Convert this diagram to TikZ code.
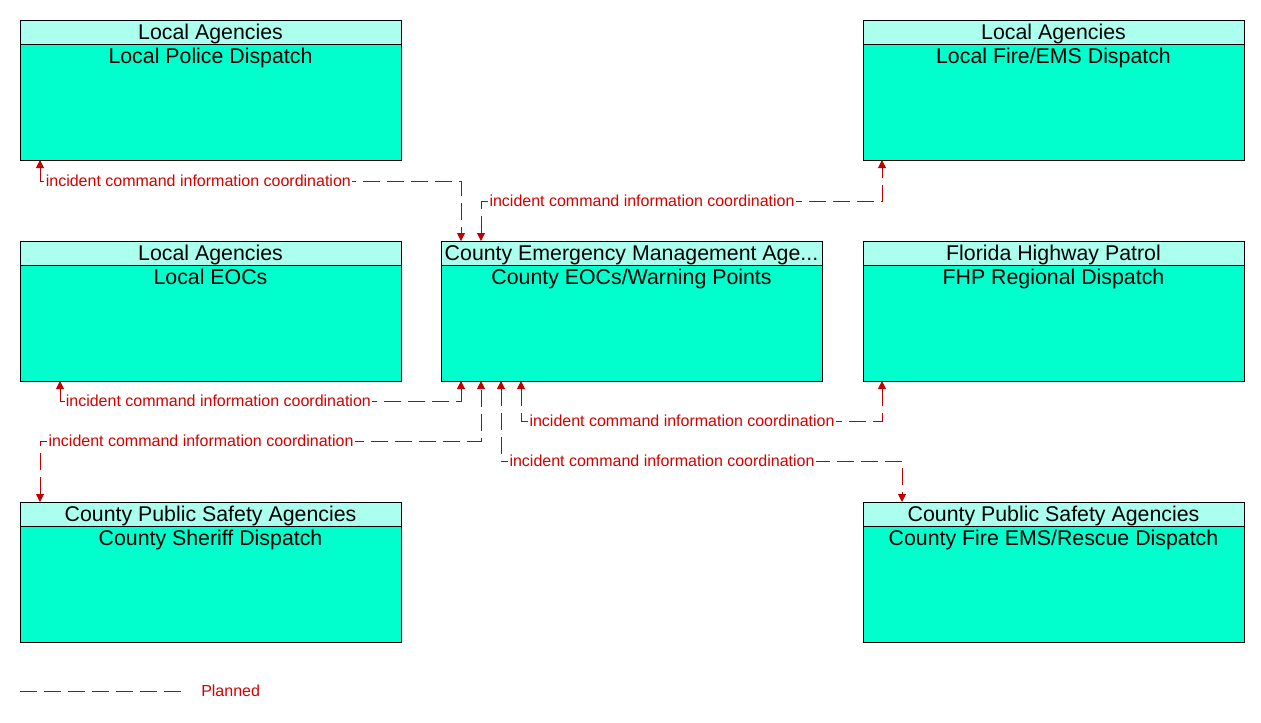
\documentclass[tikz,border=0pt]{standalone}
\usepackage{fontspec}
\setmainfont{Liberation Sans}
\usepackage{tikz}
\usetikzlibrary{arrows.meta,positioning,shapes}
\definecolor{hdcol}{RGB}{170,255,238}
\definecolor{bdcol}{RGB}{0,255,204}
\definecolor{flowred}{RGB}{190,0,0}
\definecolor{txtred}{RGB}{214,0,0}
\tikzstyle{head} = [rectangle, draw, line width=0.75pt, fill=hdcol,
    minimum width=285.75pt, minimum height=18pt, inner sep=0pt, outer sep=0pt,
    text depth=0pt, font=\fontsize{16}{16}\selectfont]
\tikzstyle{block} = [rectangle, draw, line width=0.75pt, fill=bdcol,
    minimum width=285.75pt, minimum height=87pt, inner sep=0pt, outer sep=0pt]
\tikzstyle{title} = [anchor=north, inner sep=3pt, font=\fontsize{16}{16}\selectfont]
\tikzstyle{line} = [draw, line width=0.75pt, color=flowred, dash pattern=on 12.75pt off 5.25pt,
    {Triangle[width=6pt,length=6pt]}-{Triangle[width=6pt,length=6pt]}]
\tikzstyle{flow} = [fill=white, text=txtred, inner sep=1pt, anchor=west,
    font=\fontsize{12}{12}\selectfont]

\begin{document}
\begin{tikzpicture}[x=0.75pt, y=-0.75pt]
  \useasboundingbox (0,0) rectangle (1261,722);
    % Place nodes
    \node [head] (polhd) at (210.5,32) {Local Agencies};
    \node [block, below=0pt of polhd, label={[title]north:Local Police Dispatch}] (pol) {};
    \node [head] (firehd) at (1053.5,32) {Local Agencies};
    \node [block, below=0pt of firehd, label={[title]north:Local Fire/EMS Dispatch}] (fire) {};
    \node [head] (eochd) at (210.5,253) {Local Agencies};
    \node [block, below=0pt of eochd, label={[title]north:Local EOCs}] (eoc) {};
    \node [head] (ctyhd) at (631.5,253) {County Emergency Management Age...};
    \node [block, below=0pt of ctyhd, label={[title]north:County EOCs/Warning Points}] (cty) {};
    \node [head] (fhphd) at (1053.5,253) {Florida Highway Patrol};
    \node [block, below=0pt of fhphd, label={[title]north:FHP Regional Dispatch}] (fhp) {};
    \node [head] (shrhd) at (210.5,514) {County Public Safety Agencies};
    \node [block, below=0pt of shrhd, label={[title]north:County Sheriff Dispatch}] (shr) {};
    \node [head] (cfrhd) at (1053.5,514) {County Public Safety Agencies};
    \node [block, below=0pt of cfrhd, label={[title]north:County Fire EMS/Rescue Dispatch}] (cfr) {};

    % Draw edges
    \path [line] ([xshift=15pt]pol.south west) -- ++(0,21)
        node [flow, xshift=3pt] {incident command information coordination}
        -| ([xshift=15pt]ctyhd.north west);
    \path [line] ([xshift=30pt]ctyhd.north west) -- ++(0,-40)
        node [flow, xshift=5pt] {incident command information coordination}
        -| ([xshift=14.25pt]fire.south west);
    \path [line] ([xshift=30pt]eoc.south west) -- ++(0,20)
        node [flow, xshift=3pt] {incident command information coordination}
        -| ([xshift=15pt]cty.south west);
    \path [line] ([xshift=15pt]shrhd.north west) -- ++(0,-61)
        node [flow, xshift=5pt] {incident command information coordination}
        -| ([xshift=30pt]cty.south west);
    \path [line] ([xshift=60pt]cty.south west) -- ++(0,40)
        node [flow, xshift=5pt] {incident command information coordination}
        -| ([xshift=14.25pt]fhp.south west);
    \path [line] ([xshift=45pt]cty.south west) -- ++(0,80)
        node [flow, xshift=5pt] {incident command information coordination}
        -| ([xshift=29.25pt]cfrhd.north west);

    % Legend
    \coordinate (lgA) at (20,691);
    \coordinate (lgB) at (181,691);
    \draw [line width=0.75pt, color=flowred, dash pattern=on 12.75pt off 5.25pt] (lgA) -- (lgB);
    \node [anchor=west, text=txtred, inner sep=0pt, font=\fontsize{12}{12}\selectfont] (plan) at (201,691) {Planned};
\end{tikzpicture}
\end{document}
